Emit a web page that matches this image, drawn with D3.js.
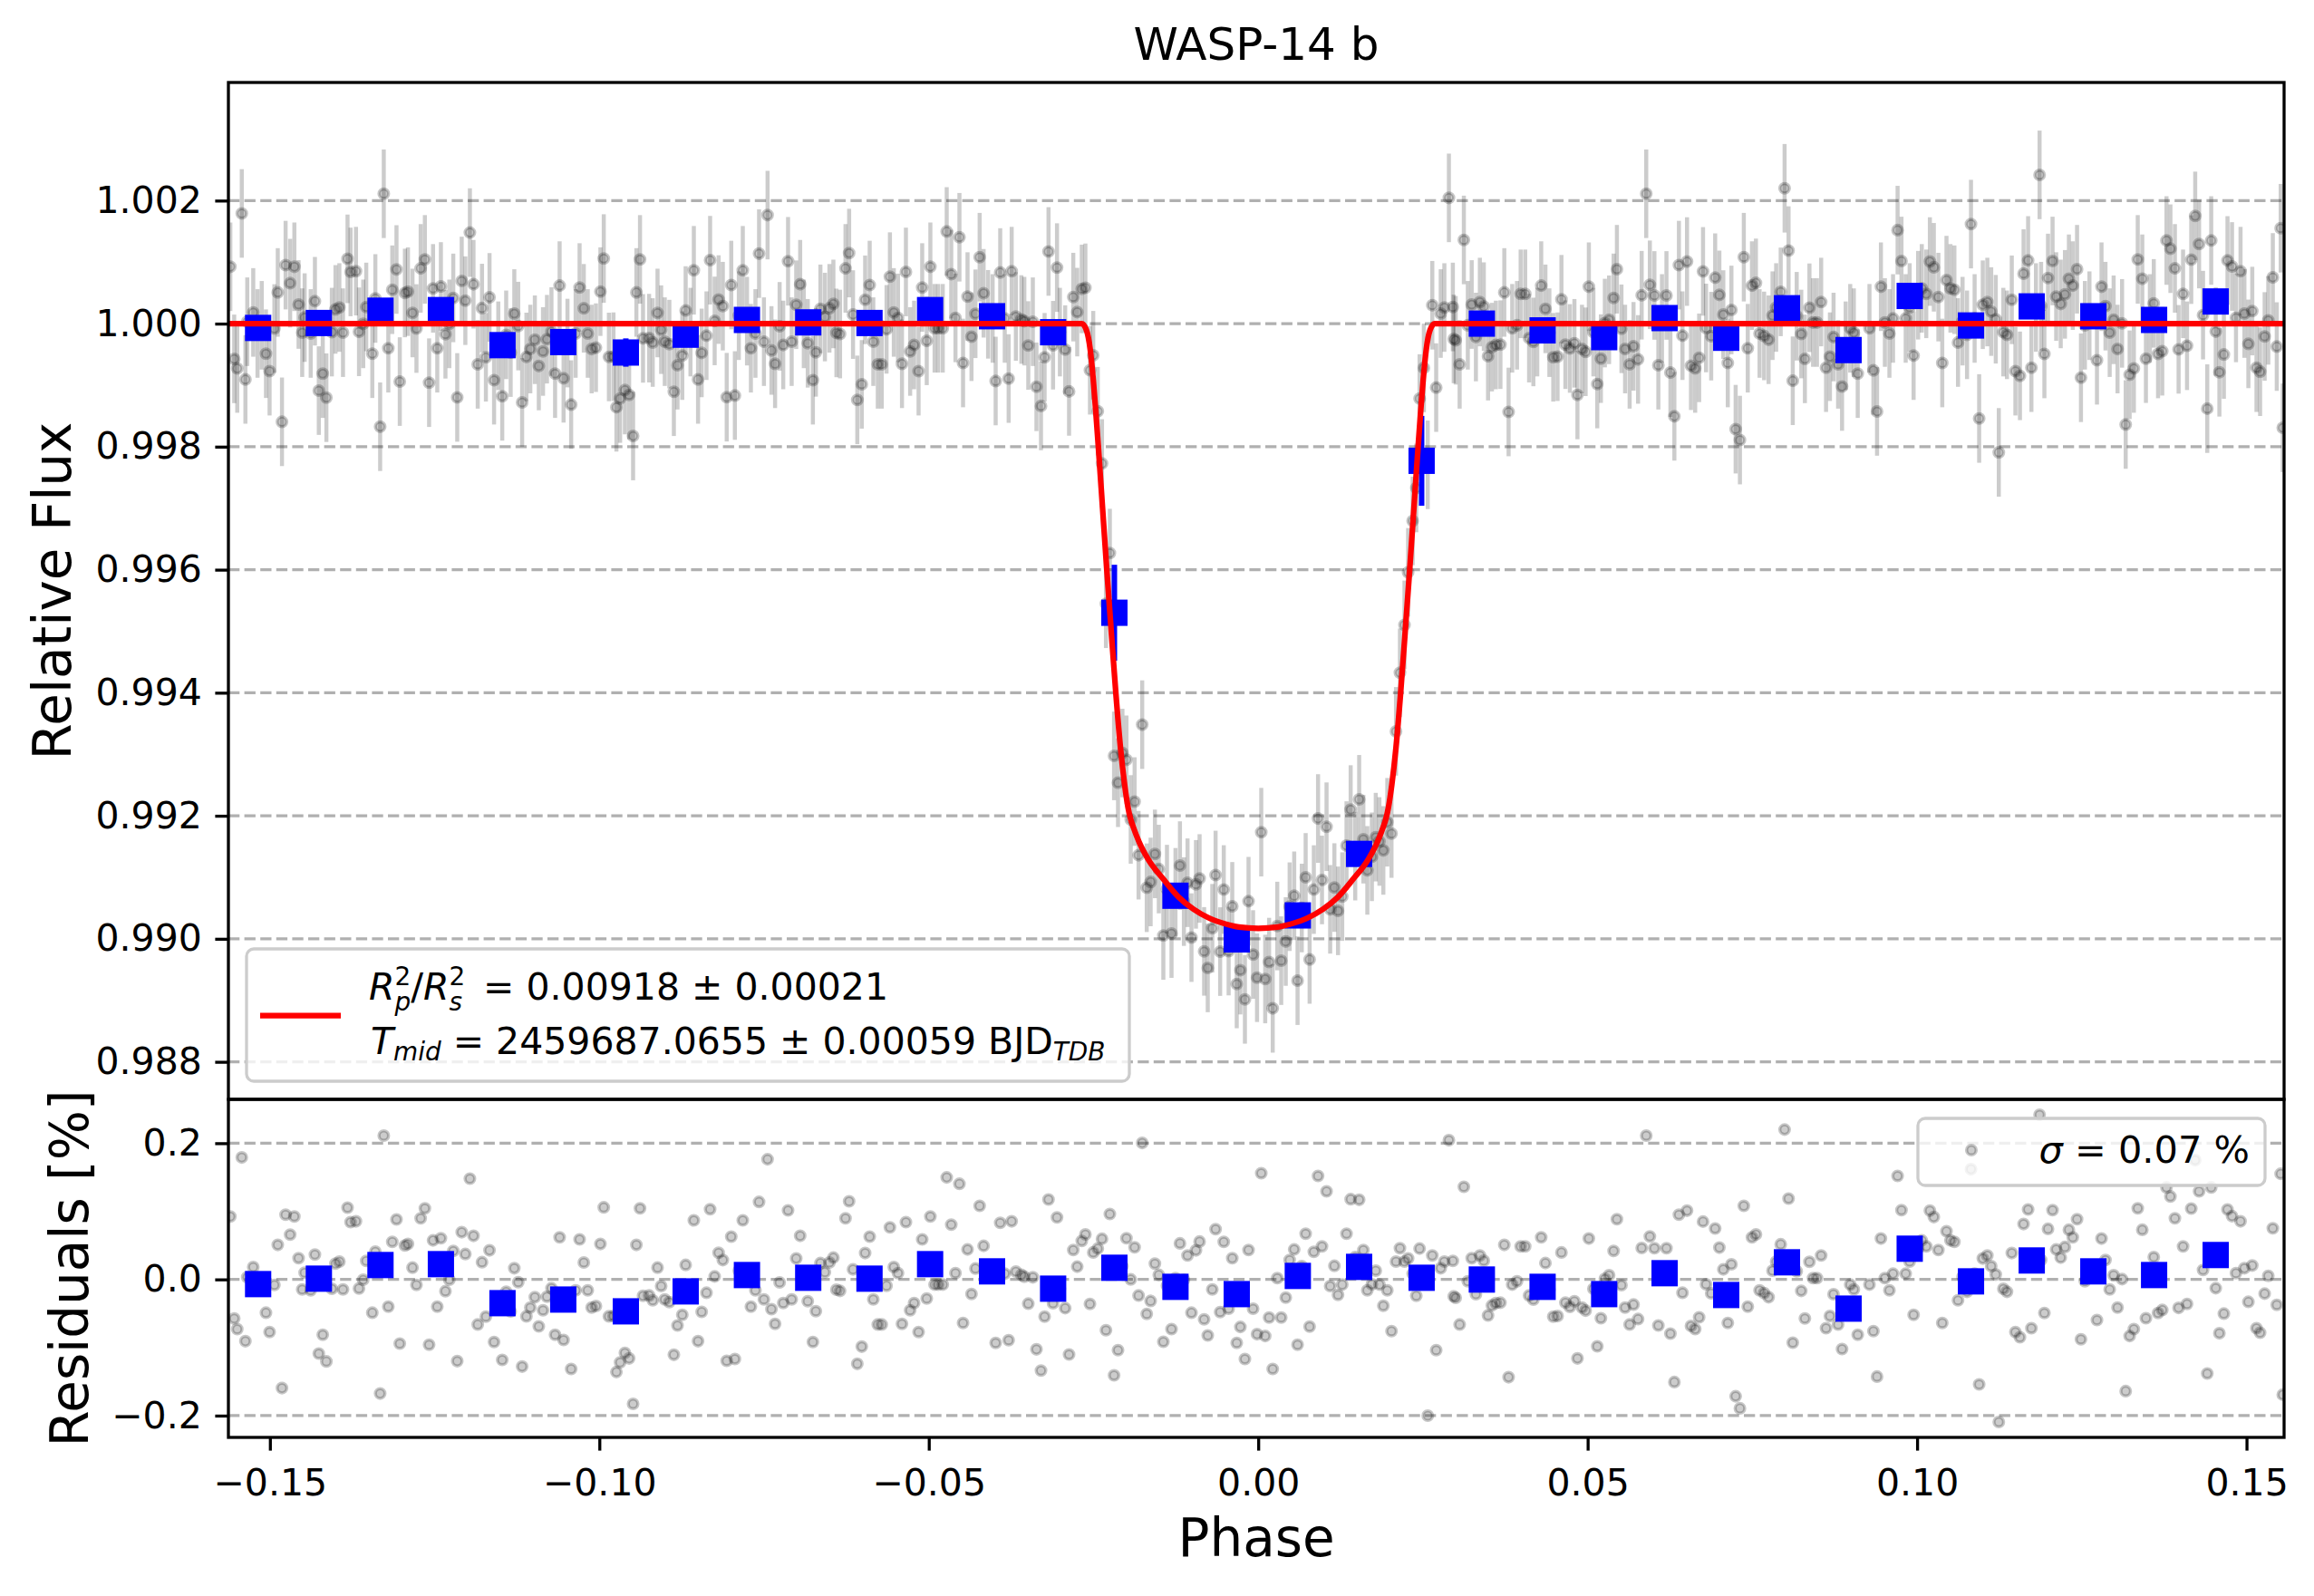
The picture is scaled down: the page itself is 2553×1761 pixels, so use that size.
<!DOCTYPE html>
<html><head><meta charset="utf-8">
<script src="https://cdn.jsdelivr.net/npm/d3@7/dist/d3.min.js"></script>
<style>body{margin:0;background:#fff} text{font-family:"DejaVu Sans",sans-serif}</style>
</head><body>
<svg id="chart" width="2553" height="1761"></svg>
<script>
// ---------------- data ----------------
const chartTitle = "WASP-14 b";
const xTicks = [-0.15, -0.10, -0.05, 0.00, 0.05, 0.10, 0.15];
const xTickLabels = ["−0.15", "−0.10", "−0.05", "0.00", "0.05", "0.10", "0.15"];
const fluxTicks = [0.988, 0.990, 0.992, 0.994, 0.996, 0.998, 1.000, 1.002];
const fluxTickLabels = ["0.988", "0.990", "0.992", "0.994", "0.996", "0.998", "1.000", "1.002"];
const residTicks = [-0.2, 0.0, 0.2];
const residTickLabels = ["−0.2", "0.0", "0.2"];

// transit model (red curve)
const modelPhase = [-0.1565, -0.02678, -0.02609, -0.02550, -0.02504, -0.02468, -0.02426, -0.02362, -0.02298,
  -0.02229, -0.02160, -0.02091, -0.02027, -0.01977, -0.01935, -0.01898, -0.01807, -0.01669, -0.01440,
  -0.01210, -0.00981, -0.00752, -0.00523, -0.00293, 0.0, 0.00293, 0.00523, 0.00752, 0.00981, 0.01210,
  0.01440, 0.01669, 0.01807, 0.01898, 0.01935, 0.01977, 0.02027, 0.02091, 0.02160, 0.02229, 0.02298,
  0.02362, 0.02426, 0.02468, 0.02504, 0.02550, 0.02609, 0.02678, 0.1565];
const modelFlux = [1.0, 1.0, 0.99990, 0.99958, 0.99909, 0.99861, 0.99799, 0.99699, 0.99599,
  0.99497, 0.99398, 0.99311, 0.99250, 0.99214, 0.99194, 0.99182, 0.99157, 0.99129, 0.99097,
  0.99068, 0.99048, 0.99034, 0.99025, 0.99019, 0.99017, 0.99019, 0.99025, 0.99034, 0.99048, 0.99068,
  0.99097, 0.99129, 0.99157, 0.99182, 0.99194, 0.99214, 0.99250, 0.99311, 0.99398, 0.99497, 0.99599,
  0.99699, 0.99799, 0.99861, 0.99909, 0.99958, 0.99990, 1.0, 1.0];

// individual 2-min points: phase and residual [%]
const pointPhase = [
-0.15601,-0.15542,-0.15496,-0.15427,-0.15372,-0.15344,-0.15253,-0.15188,-0.15124,-0.15060,-0.15005,-0.14932,-0.14881,-0.14817,-0.14762,-0.14693,-0.14629,-0.14565,-0.14510,-0.14473,
-0.14381,-0.14317,-0.14258,-0.14198,-0.14143,-0.14060,-0.14005,-0.13946,-0.13891,-0.13822,-0.13776,-0.13694,-0.13648,-0.13584,-0.13538,-0.13446,-0.13400,-0.13327,-0.13272,-0.13203,
-0.13143,-0.13079,-0.13029,-0.12951,-0.12905,-0.12836,-0.12776,-0.12712,-0.12648,-0.12584,-0.12524,-0.12460,-0.12405,-0.12336,-0.12277,-0.12217,-0.12157,-0.12089,-0.12034,-0.11965,
-0.11910,-0.11846,-0.11781,-0.11722,-0.11667,-0.11598,-0.11534,-0.11474,-0.11414,-0.11346,-0.11291,-0.11231,-0.11172,-0.11107,-0.11048,-0.10979,-0.10919,-0.10855,-0.10795,-0.10727,
-0.10672,-0.10603,-0.10543,-0.10484,-0.10428,-0.10360,-0.10300,-0.10236,-0.10176,-0.10117,-0.10052,-0.09984,-0.09933,-0.09855,-0.09786,-0.09741,-0.09685,-0.09612,-0.09548,-0.09488,
-0.09438,-0.09383,-0.09337,
-0.09245,-0.09190,-0.09117,-0.09062,-0.09007,-0.08938,-0.08869,-0.08814,-0.08741,-0.08690,-0.08617,-0.08566,-0.08502,-0.08447,-0.08374,-0.08319,-0.08250,-0.08190,-0.08126,-0.08067,
-0.07998,-0.07943,-0.07883,-0.07823,-0.07759,-0.07700,-0.07631,-0.07576,-0.07502,-0.07447,-0.07388,-0.07333,-0.07264,-0.07209,-0.07136,-0.07081,-0.07012,-0.06952,-0.06897,-0.06837,
-0.06759,-0.06714,-0.06645,-0.06577,-0.06508,-0.06448,-0.06402,-0.06347,-0.06264,-0.06209,-0.06150,-0.06085,-0.06017,-0.05966,-0.05897,-0.05842,-0.05774,-0.05714,-0.05641,-0.05590,
-0.05531,-0.05467,-0.05407,-0.05347,-0.05283,-0.05223,-0.05155,-0.05100,-0.05031,-0.04976,-0.04912,-0.04857,-0.04788,-0.04728,-0.04659,-0.04595,-0.04535,-0.04480,-0.04412,-0.04352,
-0.04292,-0.04228,-0.04168,-0.04100,-0.04031,-0.03985,-0.03916,-0.03847,-0.03788,-0.03742,-0.03678,-0.03595,-0.03550,-0.03490,-0.03421,-0.03366,-0.03297,-0.03242,-0.03183,
-0.03114,-0.03054,-0.03010,-0.02930,-0.02871,-0.02807,-0.02747,-0.02678,-0.02623,-0.02554,-0.02504,-0.02435,-0.02371,-0.02311,-0.02252,-0.02188,-0.02128,-0.02061,-0.02000,-0.01935,
-0.01876,-0.01816,-0.01761,-0.01692,-0.01633,-0.01568,-0.01509,-0.01440,-0.01385,-0.01316,-0.01256,-0.01188,-0.01128,-0.01073,-0.01013,-0.00945,-0.00890,-0.00821,-0.00766,-0.00697,
-0.00647,-0.00578,-0.00523,-0.00449,-0.00394,-0.00326,-0.00271,-0.00202,-0.00147,-0.00078,-0.00018,0.00046,0.00106,0.00165,0.00220,0.00289,0.00349,0.00418,0.00477,0.00546,
0.00597,0.00661,0.00720,0.00780,0.00844,0.00908,0.00968,0.01037,0.01092,0.01156,0.01211,0.01275,0.01340,0.01403,0.01472,0.01532,0.01596,0.01656,0.01725,0.01784,
0.01839,0.01899,0.01959,0.02023,0.02091,0.02151,0.02220,0.02275,0.02344,0.02399,0.02449,0.02514,0.02573,0.02642,0.02701,0.02770,0.02825,0.02894,0.02954,
0.02967,0.02997,0.03057,0.03121,0.03181,0.03240,0.03304,0.03364,0.03424,0.03488,0.03547,0.03607,0.03676,0.03735,0.03800,0.03855,0.03928,0.03983,0.04052,0.04111,
0.04176,0.04235,0.04295,0.04359,0.04419,0.04478,0.04543,0.04602,0.04662,0.04730,0.04799,0.04845,0.04914,0.04969,0.05018,0.05087,0.05146,0.05201,0.05261,0.05325,
0.05394,0.05444,0.05513,0.05568,0.05637,0.05696,0.05765,0.05820,0.05889,0.05944,0.06013,0.06073,0.06128,0.06196,0.06256,0.06316,0.06385,0.06439,0.06508,0.06568,
0.06632,0.06692,0.06751,0.06797,0.06875,0.06935,0.06999,0.07059,0.07127,0.07182,0.07246,0.07311,0.07370,0.07430,0.07494,0.07554,0.07609,0.07678,0.07746,0.07806,
0.07861,0.07930,0.07989,0.08049,0.08113,0.08173,0.08242,0.08297,0.08366,0.08421,0.08480,0.08544,0.08618,0.08677,0.08732,0.08801,0.08861,0.08916,0.08985,0.09040,
0.09099,
0.09277,0.09337,0.09392,0.09451,0.09511,0.09580,0.09635,0.09704,0.09763,0.09827,0.09887,0.09947,0.10016,0.10071,0.10139,0.10194,0.10254,0.10323,0.10382,0.10446,
0.10506,0.10566,0.10621,0.10690,0.10758,0.10818,0.10873,0.10942,0.10997,0.11066,0.11125,0.11194,0.11240,0.11309,0.11364,0.11437,0.11492,0.11561,0.11616,0.11685,
0.11735,0.11804,0.11859,0.11882,0.11932,0.11987,0.12056,0.12111,0.12180,0.12244,0.12304,0.12363,0.12428,0.12487,0.12547,0.12616,0.12730,0.12799,0.12859,0.12923,
0.12983,0.13042,0.13111,0.13166,0.13226,0.13290,0.13349,0.13418,0.13473,0.13533,0.13592,0.13657,0.13721,0.13785,0.13845,0.13913,0.13969,0.14037,0.14097,0.14161,
0.14221,0.14280,0.14340,0.14404,0.14464,0.14533,0.14588,0.14656,0.14711,0.14780,0.14840,0.14909,0.14968,0.15028,0.15087,0.15151,0.15206,0.15275,0.15330,0.15399,
0.15459,0.15518,0.15550];
const pointResidual = [
0.0924,-0.0573,-0.0729,0.1791,-0.0907,0.0031,0.0182,-0.0160,-0.0027,-0.0489,-0.0773,-0.0080,0.0507,-0.1596,0.0951,0.0658,0.0924,0.0311,-0.0147,0.0098,
-0.0160,0.0364,-0.1089,-0.0813,-0.1204,-0.0138,0.0231,0.0262,-0.0147,0.1053,0.0840,0.0853,-0.0133,-0.0004,0.0271,-0.0489,0.0409,-0.1676,0.2111,-0.0400,
0.0551,0.0880,-0.0942,0.0498,0.0520,0.0173,-0.0080,0.0898,0.1044,-0.0960,0.0573,-0.0400,0.0604,-0.0173,-0.0004,0.0418,-0.1200,0.0693,0.0373,0.1480,
0.0640,-0.0662,0.0253,-0.0547,0.0427,-0.0920,-0.0360,-0.1182,-0.0182,-0.0471,0.0164,-0.0040,-0.1280,-0.0542,-0.0413,-0.0262,-0.0689,-0.0453,-0.0253,-0.0129,
-0.0813,0.0618,-0.0889,-0.0316,-0.1316,-0.0160,0.0587,0.0249,-0.0160,-0.0413,-0.0391,0.0520,0.1058,-0.0542,-0.0538,-0.1360,-0.1218,-0.1080,-0.1160,-0.1827,
0.0507,0.1044,-0.0240,
-0.0236,-0.0307,0.0173,-0.0098,-0.0293,-0.0333,-0.1107,-0.0676,-0.0520,0.0213,-0.0138,0.0867,-0.0907,-0.0476,-0.0196,0.1031,0.0044,0.0391,0.0284,-0.1196,
0.0627,-0.1169,0.0129,0.0867,0.0040,-0.0400,-0.0160,0.1138,-0.0293,0.1764,-0.0436,-0.0653,-0.0044,-0.0347,0.1013,-0.0293,0.0307,0.0640,-0.0004,-0.0320,
-0.0920,-0.0467,0.0240,0.0107,0.0249,0.0320,-0.0151,-0.0169,0.0898,0.1147,0.0147,-0.1240,-0.0987,0.0387,0.0627,-0.0293,-0.0662,-0.0662,-0.0093,0.0764,
0.0182,0.0093,-0.0653,0.0840,-0.0453,-0.0347,-0.0773,0.0587,-0.0280,0.0924,-0.0076,-0.0076,-0.0076,0.1498,0.0804,0.0093,0.1404,-0.0640,0.0440,-0.0213,
0.0160,0.1080,0.0493,0.0151,0.0084,-0.0933,0.0831,0.0084,-0.0893,0.0853,0.0116,0.0067,0.0040,-0.0356,0.0031,-0.1027,-0.1338,-0.0547,0.1173,
-0.0351,0.0911,-0.0138,-0.0422,-0.1102,0.0431,0.0187,0.0564,0.0662,-0.0360,0.0396,0.0453,0.0596,-0.0747,0.0960,-0.1409,-0.1040,0.0196,0.0604,0.0000,
0.0471,-0.0236,0.2004,-0.0507,-0.0316,0.0231,0.0067,-0.0916,-0.0093,-0.0729,0.0018,0.0529,-0.0004,0.0351,-0.0489,0.0427,0.0556,-0.0587,-0.0822,-0.0147,
0.0738,-0.0480,0.0551,-0.0431,0.0311,-0.0933,-0.0698,-0.1169,0.0431,-0.0431,-0.0804,0.1560,-0.0831,-0.0560,-0.1316,0.0018,-0.0560,-0.0267,0.0284,0.0440,
-0.0960,0.0196,0.0671,-0.0693,0.0404,0.1520,0.0484,0.1293,-0.0098,0.0200,-0.0227,-0.0076,0.0671,0.1178,0.0329,0.1169,0.0431,-0.0160,-0.0071,0.0129,
-0.0076,-0.0387,-0.0160,-0.0760,0.0262,0.0458,0.0262,0.0307,0.0084,-0.0240,0.0453,0.0084,-0.2000,0.0351,-0.1040,0.0164,0.0262,0.2044,0.0271,
-0.0249,-0.0271,-0.0662,0.1360,-0.0027,0.0311,-0.0218,0.0351,0.0276,-0.0529,-0.0382,-0.0347,-0.0342,0.0507,-0.1436,-0.0076,-0.0027,0.0484,0.0484,-0.0236,
-0.0298,-0.0138,0.0618,0.0240,-0.0147,-0.0547,-0.0538,0.0396,-0.0342,-0.0404,-0.0320,-0.1160,-0.0413,-0.0458,0.0600,-0.0138,-0.0982,-0.0569,0.0009,0.0062,
0.0418,0.0884,-0.0084,-0.0413,-0.0662,-0.0369,-0.0582,0.0462,0.2111,0.0631,0.0458,-0.0676,0.0084,0.0458,-0.0796,-0.1507,0.0951,-0.0196,0.1009,-0.0684,
-0.0729,-0.0556,0.0849,-0.0071,-0.0204,0.0747,0.0467,0.0147,-0.0640,0.0222,-0.1716,-0.1893,0.1080,-0.0400,0.0618,0.0662,-0.0160,-0.0200,-0.0262,0.0129,
0.0262,0.0516,0.2200,0.1187,-0.0929,0.0120,-0.0169,-0.0573,0.0258,0.0018,0.0018,0.0351,-0.0716,-0.0538,-0.0218,-0.0662,-0.1022,-0.0360,-0.0076,-0.0147,
-0.0813,
-0.0076,-0.0760,-0.1427,0.0600,0.0018,-0.0160,0.0084,0.1520,0.1018,0.0084,0.0262,-0.0520,0.0462,0.0573,0.0484,0.1009,0.0916,0.0431,-0.0640,0.0707,
0.0573,0.0551,-0.0307,0.0040,-0.0182,0.1618,0.0084,-0.1542,0.0307,0.0351,0.0196,0.0071,-0.2093,-0.0138,-0.0182,0.0387,-0.0773,-0.0849,0.0813,0.1027,
-0.0716,0.0262,0.2418,0.0284,-0.0493,0.0742,0.1018,0.0440,0.0320,0.0476,0.0729,0.0618,0.0884,-0.0880,-0.0027,0.0129,-0.0596,0.0600,0.0284,-0.0147,
0.0062,-0.0413,0.0004,-0.1640,-0.0831,-0.0729,0.1044,0.0729,-0.0569,0.0084,0.0329,-0.0493,-0.0449,0.1351,0.1218,0.0898,-0.0418,0.0484,-0.0360,0.1040,
0.1751,0.1293,0.0138,-0.1382,0.1351,-0.0129,-0.0791,-0.0502,0.1027,0.0929,0.0093,0.0853,0.0164,-0.0329,0.0204,-0.0716,-0.0782,-0.0209,0.0053,0.0751,
-0.0373,0.1551,-0.1693];
const pointFluxErr = 0.00072;

// binned points (blue squares)
const binPhase = [-0.15179,-0.14257,-0.13322,-0.12405,-0.11470,-0.10548,-0.09598,-0.08690,-0.07760,-0.06830,-0.05900,-0.04980,-0.04040,
  -0.03113,-0.02183,-0.01256,-0.00326,0.00601,0.01531,0.02480,0.03394,0.04316,0.05251,0.06168,0.07103,0.08025,0.08960,
  0.09888,0.10818,0.11740,0.12675,0.13597,0.14532];
const binFlux = [0.99993,1.00001,1.00021,1.00022,0.99965,0.99970,0.99953,0.99982,1.00006,1.00002,1.00001,1.00022,1.00012,
  0.99986,0.99530,0.99070,0.98999,0.99038,0.99138,0.99777,1.00000,0.99989,0.99978,1.00009,0.99977,1.00025,0.99957,
  1.00045,0.99997,1.00028,1.00012,1.00006,1.00036];
const binFluxErr = [0.0002,0.0002,0.0002,0.0002,0.0002,0.0002,0.00023,0.0002,0.0002,0.0002,0.0002,0.0002,0.0002,
  0.0002,0.00078,0.0002,0.0002,0.0002,0.0002,0.00073,0.0002,0.0002,0.0002,0.0002,0.0002,0.0002,0.0002,
  0.0002,0.0002,0.0002,0.0002,0.0002,0.0002];
const binResidual = [-0.0069,0.0011,0.0211,0.0224,-0.0349,-0.0296,-0.0469,-0.0176,0.0064,0.0024,0.0011,0.0224,0.0118,
  -0.0136,0.0171,-0.0109,-0.0216,0.0051,0.0184,0.0024,-0.0002,-0.0109,-0.0216,0.0091,-0.0229,0.0251,-0.0429,
  0.0451,-0.0029,0.0278,0.0118,0.0064,0.0358];

// legend labels (mathtext-like pieces)
const legendLine1 = [{t:"R",it:1},{t:"2",sup:1},{t:"p",it:1,sub:1,stack:1},{t:"/"},{t:"R",it:1},{t:"2",sup:1},{t:"s",it:1,sub:1,stack:1},{t:" = 0.00918 ± 0.00021",gap:10}];
const legendLine2 = [{t:"T",it:1},{t:"mid",it:1,sub:1,low:1},{t:" = 2459687.0655 ± 0.00059 BJD"},{t:"TDB",it:1,sub:1,low:1}];
const residLegendValue = " = 0.07 %";

// ---------------- layout ----------------
const svg = d3.select("#chart");
const L = 252, R = 2520, T1 = 91, B1 = 1213, T2 = 1213, B2 = 1586;
const FONT = "DejaVu Sans";
const x = d3.scaleLinear().domain([-0.1563, 0.1557]).range([L, R]);
const yTop = d3.scaleLinear().domain([0.98739, 1.00392]).range([B1, T1]);
const yBot = d3.scaleLinear().domain([-0.232, 0.2644]).range([B2, T2]);

function modelAt(p) {
  const i = d3.bisectRight(modelPhase, p);
  if (i <= 0) return modelFlux[0];
  if (i >= modelPhase.length) return modelFlux[modelFlux.length - 1];
  const t = (p - modelPhase[i-1]) / (modelPhase[i] - modelPhase[i-1]);
  return modelFlux[i-1] + t * (modelFlux[i] - modelFlux[i-1]);
}
const pts = pointPhase.map((p, i) => ({p, r: pointResidual[i], f: modelAt(p) + pointResidual[i] / 100}));
const bins = binPhase.map((p, i) => ({p, f: binFlux[i], e: binFluxErr[i], r: binResidual[i]}));

const defs = svg.append("defs");
defs.append("clipPath").attr("id", "clipTop").append("rect").attr("x", L).attr("y", T1).attr("width", R-L).attr("height", B1-T1);
defs.append("clipPath").attr("id", "clipBot").append("rect").attr("x", L).attr("y", T2).attr("width", R-L).attr("height", B2-T2);

// title
svg.append("text").attr("x", (L+R)/2).attr("y", 66).attr("text-anchor", "middle")
  .attr("font-size", 50).text(chartTitle);

// gridlines
function grid(ticks, scale) {
  svg.append("g").selectAll("line").data(ticks).join("line")
    .attr("x1", L).attr("x2", R).attr("y1", d => scale(d)).attr("y2", d => scale(d))
    .attr("stroke", "#b0b0b0").attr("stroke-width", 3.3).attr("stroke-dasharray", "12.3,5.3");
}
grid(fluxTicks, yTop);
grid(residTicks, yBot);

// ---- top panel marks
const gTop = svg.append("g").attr("clip-path", "url(#clipTop)");
gTop.append("g").selectAll("line").data(pts).join("line")
  .attr("x1", d => x(d.p)).attr("x2", d => x(d.p))
  .attr("y1", d => yTop(d.f - pointFluxErr)).attr("y2", d => yTop(d.f + pointFluxErr))
  .attr("stroke", "#000").attr("stroke-opacity", 0.2).attr("stroke-width", 4.5);
gTop.append("g").selectAll("circle").data(pts).join("circle")
  .attr("cx", d => x(d.p)).attr("cy", d => yTop(d.f)).attr("r", 5.3)
  .attr("fill", "#000").attr("fill-opacity", 0.2).attr("stroke", "#000").attr("stroke-opacity", 0.22).attr("stroke-width", 3.5);
gTop.append("g").selectAll("line").data(bins).join("line")
  .attr("x1", d => x(d.p)).attr("x2", d => x(d.p))
  .attr("y1", d => yTop(d.f - d.e)).attr("y2", d => yTop(d.f + d.e))
  .attr("stroke", "#0000ff").attr("stroke-width", 6);
gTop.append("g").selectAll("rect").data(bins).join("rect")
  .attr("x", d => x(d.p) - 14.5).attr("y", d => yTop(d.f) - 14.5).attr("width", 29).attr("height", 29)
  .attr("fill", "#0000ff");
gTop.append("path").datum(modelPhase.map((p, i) => [p, modelFlux[i]]))
  .attr("d", d3.line().x(d => x(d[0])).y(d => yTop(d[1])).curve(d3.curveMonotoneX))
  .attr("fill", "none").attr("stroke", "#ff0000").attr("stroke-width", 6.25).attr("stroke-linejoin", "round");

// ---- bottom panel marks
const gBot = svg.append("g").attr("clip-path", "url(#clipBot)");
gBot.append("g").selectAll("circle").data(pts).join("circle")
  .attr("cx", d => x(d.p)).attr("cy", d => yBot(d.r)).attr("r", 5.3)
  .attr("fill", "#000").attr("fill-opacity", 0.2).attr("stroke", "#000").attr("stroke-opacity", 0.22).attr("stroke-width", 3.5);
gBot.append("g").selectAll("rect").data(bins).join("rect")
  .attr("x", d => x(d.p) - 14.5).attr("y", d => yBot(d.r) - 14.5).attr("width", 29).attr("height", 29)
  .attr("fill", "#0000ff");

// ---- one <text> per line, tspans for sub/superscripts (stacked like mathtext)
function richLine(g, x0, y0, parts, fs) {
  const t = g.append("text").attr("x", x0).attr("y", y0).attr("font-size", fs).style("white-space", "pre");
  let curDy = 0, lastW = 0;
  parts.forEach(p => {
    const small = p.sub || p.sup;
    const size = small ? fs * 0.68 : fs;
    const target = p.sup ? -fs * 0.40 : (p.sub ? (p.low ? fs * 0.17 : fs * 0.29) : 0);
    const ts = t.append("tspan").attr("font-size", size).attr("font-style", p.it ? "italic" : "normal")
      .attr("dy", target - curDy).text(p.t);
    if (p.stack) ts.attr("dx", -lastW);
    else if (p.gap) ts.attr("dx", p.gap);
    curDy = target;
    lastW = ts.node().getComputedTextLength();
  });
  return t;
}

// ---- top legend
const lg = svg.append("g");
lg.append("rect").attr("x", 272).attr("y", 1047).attr("width", 974).attr("height", 146).attr("rx", 8)
  .attr("fill", "#fff").attr("fill-opacity", 0.8).attr("stroke", "#cccccc").attr("stroke-width", 3.3);
lg.append("line").attr("x1", 287).attr("x2", 376).attr("y1", 1120.5).attr("y2", 1120.5)
  .attr("stroke", "#ff0000").attr("stroke-width", 6.25);
richLine(lg, 407, 1103, legendLine1, 41);
richLine(lg, 409, 1163, legendLine2, 41);

// ---- residual legend
const rg = svg.append("g");
rg.append("rect").attr("x", 2116).attr("y", 1234).attr("width", 383).attr("height", 74).attr("rx", 8)
  .attr("fill", "#fff").attr("fill-opacity", 0.8).attr("stroke", "#cccccc").attr("stroke-width", 3.3);
rg.append("circle").attr("cx", 2175).attr("cy", 1269).attr("r", 5.3)
  .attr("fill", "#000").attr("fill-opacity", 0.2).attr("stroke", "#000").attr("stroke-opacity", 0.22).attr("stroke-width", 3.5);
const rt = rg.append("text").attr("x", 2482).attr("y", 1283).attr("text-anchor", "end").attr("font-size", 41.5).style("white-space", "pre");
rt.append("tspan").attr("font-style", "italic").text("σ");
rt.append("tspan").text(residLegendValue);

// ---- axes
function styleAxis(g) {
  g.select(".domain").remove();
  g.selectAll(".tick line").attr("stroke", "#000").attr("stroke-width", 3.3);
  g.selectAll(".tick text").attr("font-size", 41).attr("font-family", FONT).attr("fill", "#000");
}
svg.append("g").attr("transform", `translate(${L},0)`)
  .call(d3.axisLeft(yTop).tickValues(fluxTicks).tickFormat((d, i) => fluxTickLabels[i]).tickSize(14.6).tickPadding(14.6))
  .call(styleAxis);
svg.append("g").attr("transform", `translate(${L},0)`)
  .call(d3.axisLeft(yBot).tickValues(residTicks).tickFormat((d, i) => residTickLabels[i]).tickSize(14.6).tickPadding(14.6))
  .call(styleAxis);
const xa = svg.append("g").attr("transform", `translate(0,${B2})`)
  .call(d3.axisBottom(x).tickValues(xTicks).tickFormat((d, i) => xTickLabels[i]).tickSize(14.6).tickPadding(14.6))
  .call(styleAxis);
xa.selectAll(".tick text").attr("dy", "0.84em");

// frames
svg.append("rect").attr("x", L).attr("y", T1).attr("width", R-L).attr("height", B1-T1)
  .attr("fill", "none").attr("stroke", "#000").attr("stroke-width", 3.3);
svg.append("rect").attr("x", L).attr("y", T2).attr("width", R-L).attr("height", B2-T2)
  .attr("fill", "none").attr("stroke", "#000").attr("stroke-width", 3.3);

// axis labels
svg.append("text").attr("transform", `translate(78,${(T1+B1)/2}) rotate(-90)`).attr("text-anchor", "middle")
  .attr("font-size", 58).text("Relative Flux");
svg.append("text").attr("transform", `translate(97,${(T2+B2)/2}) rotate(-90)`).attr("text-anchor", "middle")
  .attr("font-size", 58).text("Residuals [%]");
svg.append("text").attr("x", (L+R)/2).attr("y", 1717).attr("text-anchor", "middle")
  .attr("font-size", 58).text("Phase");
</script>
</body></html>
